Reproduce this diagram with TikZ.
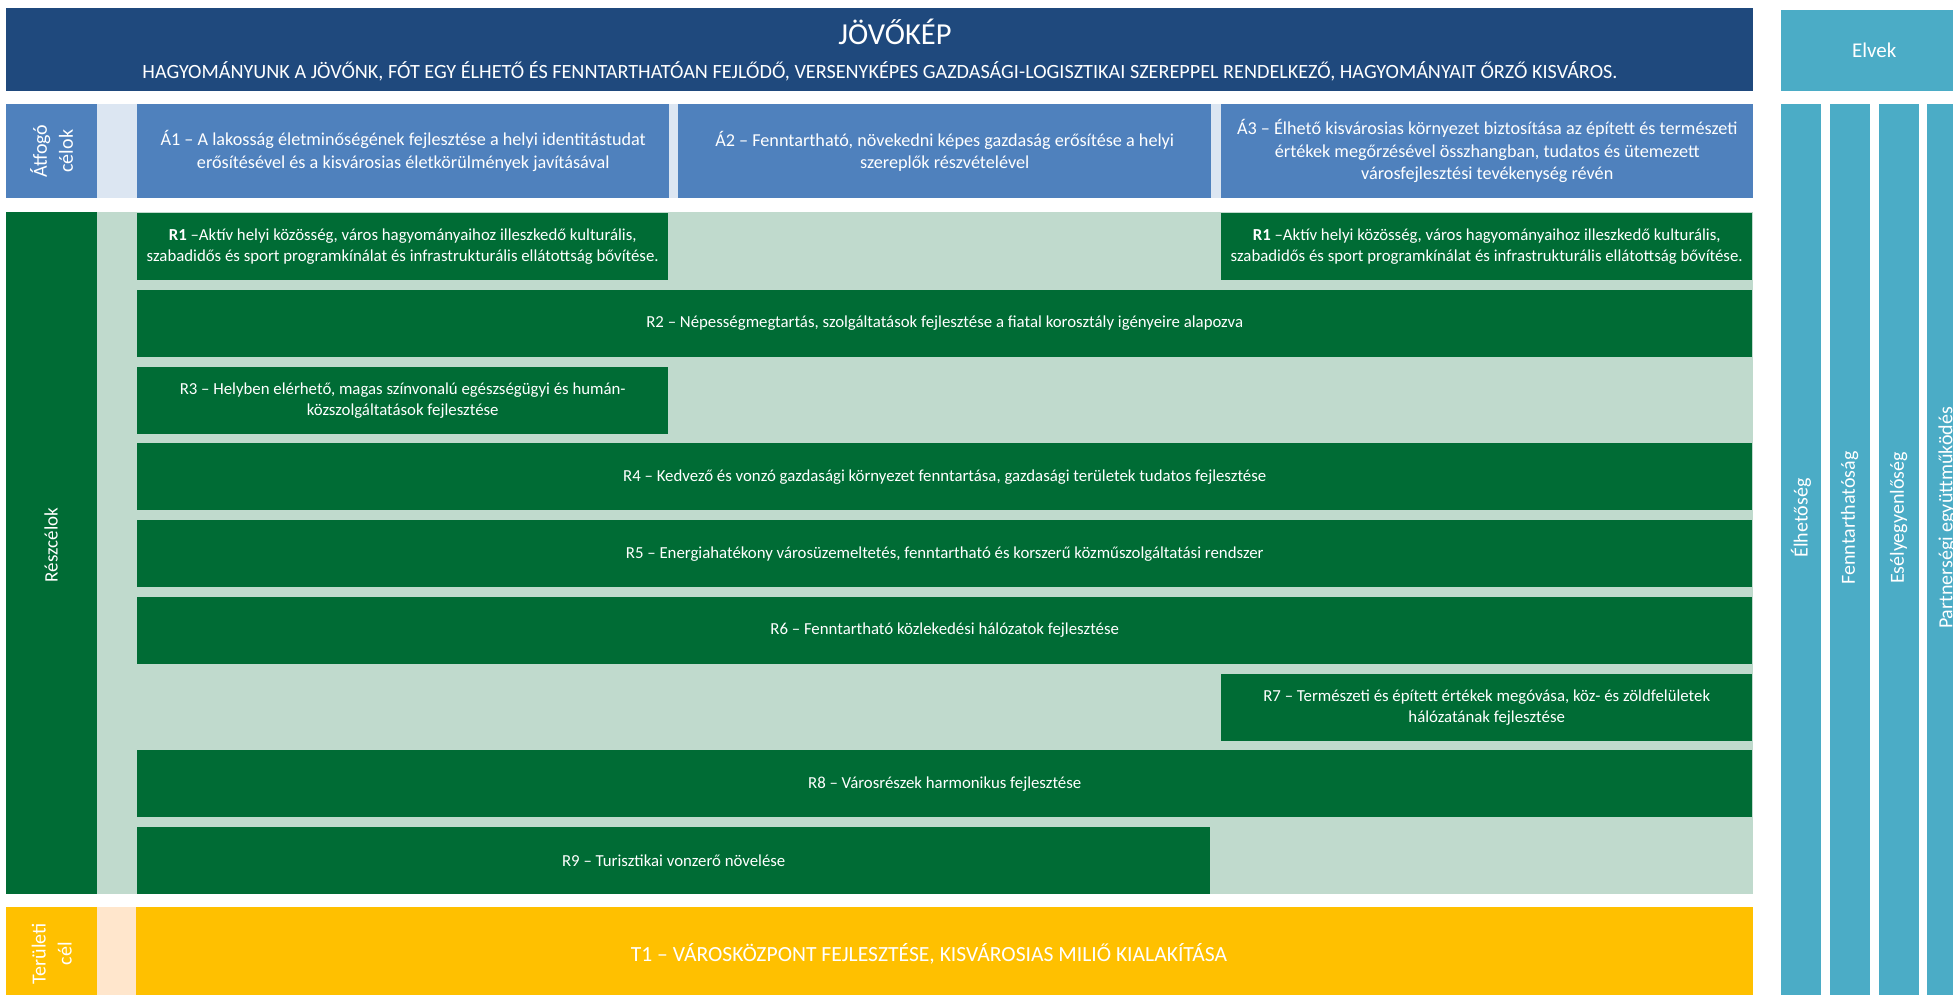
\documentclass[tikz,border=0pt]{standalone}
\usepackage{fontspec}
\setmainfont{Carlito}
\usetikzlibrary{positioning}

\definecolor{navy}{HTML}{1F497D}
\definecolor{elvblue}{HTML}{4BACC6}
\definecolor{celblue}{HTML}{4F81BD}
\definecolor{celpale}{HTML}{DCE6F2}
\definecolor{dkgreen}{HTML}{006C35}
\definecolor{ltgreen}{HTML}{C0DACD}
\definecolor{sarga}{HTML}{FFC000}
\definecolor{barack}{HTML}{FFE6CC}

\newcommand{\fsz}[2]{\fontsize{#1}{#2}\selectfont}

\begin{document}
\begin{tikzpicture}[x=1pt, y=-1pt,
  box/.style={anchor=north west, inner sep=0pt, text=white, align=center},
  rbox/.style={box, fill=dkgreen, minimum height=67pt, font=\fsz{16.8}{21}},
  abox/.style={box, fill=celblue, minimum height=94pt, font=\fsz{18.2}{22.5}},
  lbl/.style={rotate=90, text=white, align=center, inner sep=0pt},
  oszlop/.style={box, fill=elvblue, minimum width=40pt, minimum height=900pt}]
\useasboundingbox (0,0) rectangle (1953,995);
\clip (0,0) rectangle (1953,995);

% jovokep
\node[box, fill=navy, minimum width=1747pt, minimum height=83pt] (jovo) at (6,8) {};
\node[text=white, font=\fsz{30.5}{32}] (jcim) at (895,32) {JÖVŐKÉP};
\node[text=white, font=\fsz{20.2}{22}] (jszov) at (880,71) {HAGYOMÁNYUNK A JÖVŐNK, FÓT EGY ÉLHETŐ ÉS FENNTARTHATÓAN FEJLŐDŐ, VERSENYKÉPES GAZDASÁGI-LOGISZTIKAI SZEREPPEL RENDELKEZŐ, HAGYOMÁNYAIT ŐRZŐ KISVÁROS.};

% elvek
\node[box, fill=elvblue, minimum width=186pt, minimum height=81pt, font=\fsz{21}{22}] (elvek) at (1781,10) {Elvek};
\node[oszlop] (e1) at (1781,104) {};
\node[oszlop] (e2) at (1830,104) {};
\node[oszlop] (e3) at (1879,104) {};
\node[oszlop] (e4) at (1927,104) {};
\node[lbl, font=\fsz{20}{22}] (e1t) at (1801,518) {Élhetőség};
\node[lbl, font=\fsz{20}{22}] (e2t) at (1849.5,518) {Fenntarthatóság};
\node[lbl, font=\fsz{20}{22}] (e3t) at (1898.5,518) {Esélyegyenlőség};
\node[lbl, font=\fsz{20}{22}] (e4t) at (1947,518) {Partnerségi együttműködés};

% atfogo celok
\node[box, fill=celpale, minimum width=1656pt, minimum height=94pt] (asor) at (97,104) {};
\node[box, fill=celblue, minimum width=91pt, minimum height=94pt] (acim) at (6,104) {};
\node[lbl, font=\fsz{20}{26}] (acimt) at (acim.center) {Átfogó\\célok};
\node[abox, minimum width=532pt] (a1) at (137,104) {Á1 – A lakosság életminőségének fejlesztése a helyi identitástudat\\erősítésével és a kisvárosias életkörülmények javításával};
\node[abox, minimum width=533pt] (a2) at (678,104) {Á2 – Fenntartható, növekedni képes gazdaság erősítése a helyi\\szereplők részvételével};
\node[abox, minimum width=532pt] (a3) at (1221,104) {Á3 – Élhető kisvárosias környezet biztosítása az épített és természeti\\értékek megőrzésével összhangban, tudatos és ütemezett\\városfejlesztési tevékenység révén};

% reszcelok
\node[box, fill=ltgreen, minimum width=1656pt, minimum height=682pt] (rsor) at (97,212) {};
\node[box, fill=dkgreen, minimum width=91pt, minimum height=682pt] (rcim) at (6,212) {};
\node[lbl, font=\fsz{19}{20}] (rcimt) at (51,545) {Részcélok};
\node[rbox, minimum width=531pt] (r1a) at (137,213) {\textbf{R1} –Aktív helyi közösség, város hagyományaihoz illeszkedő kulturális,\\szabadidős és sport programkínálat és infrastrukturális ellátottság bővítése.};
\node[rbox, minimum width=531pt] (r1b) at (1221,213) {\textbf{R1} –Aktív helyi közösség, város hagyományaihoz illeszkedő kulturális,\\szabadidős és sport programkínálat és infrastrukturális ellátottság bővítése.};
\node[rbox, minimum width=1615pt] (r2) at (137,289.75) {R2 – Népességmegtartás, szolgáltatások fejlesztése a fiatal korosztály igényeire alapozva};
\node[rbox, minimum width=531pt] (r3) at (137,366.5) {R3 – Helyben elérhető, magas színvonalú egészségügyi és humán-\\közszolgáltatások fejlesztése};
\node[rbox, minimum width=1615pt] (r4) at (137,443.25) {R4 – Kedvező és vonzó gazdasági környezet fenntartása, gazdasági területek tudatos fejlesztése};
\node[rbox, minimum width=1615pt] (r5) at (137,520) {R5 – Energiahatékony városüzemeltetés, fenntartható és korszerű közműszolgáltatási rendszer};
\node[rbox, minimum width=1615pt] (r6) at (137,596.75) {R6 – Fenntartható közlekedési hálózatok fejlesztése};
\node[rbox, minimum width=531pt] (r7) at (1221,673.5) {R7 – Természeti és épített értékek megóvása, köz- és zöldfelületek\\hálózatának fejlesztése};
\node[rbox, minimum width=1615pt] (r8) at (137,750.25) {R8 – Városrészek harmonikus fejlesztése};
\node[rbox, minimum width=1073pt] (r9) at (137,827) {R9 – Turisztikai vonzerő növelése};

% teruleti cel
\node[box, fill=barack, minimum width=40pt, minimum height=93pt] (tsav) at (97,907) {};
\node[box, fill=sarga, minimum width=91pt, minimum height=93pt] (tcim) at (6,907) {};
\node[lbl, font=\fsz{20}{26}] (tcimt) at (tcim.center) {Területi\\cél};
\node[box, fill=sarga, minimum width=1617pt, minimum height=93pt] (t1) at (136,907) {};
\node[text=white, font=\fsz{21.6}{24}] (t1t) at (929,954) {T1 – VÁROSKÖZPONT FEJLESZTÉSE, KISVÁROSIAS MILIŐ KIALAKÍTÁSA};
\end{tikzpicture}
\end{document}
